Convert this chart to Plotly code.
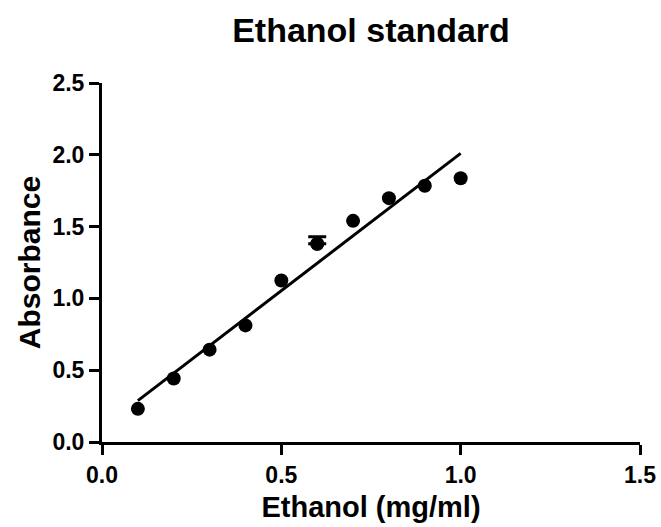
import numpy as np
import plotly.graph_objects as go

# Data
ethanol = [0.1, 0.2, 0.3, 0.4, 0.5, 0.6, 0.7, 0.8, 0.9, 1.0]
absorbance = [0.231, 0.442, 0.643, 0.812, 1.125, 1.380, 1.540, 1.698, 1.784, 1.837]
abs_err = [0, 0, 0, 0, 0, 0.049, 0, 0, 0, 0]

x_ticks = [0.0, 0.5, 1.0, 1.5]
x_tick_labels = ["0.0", "0.5", "1.0", "1.5"]
y_ticks = [0.0, 0.5, 1.0, 1.5, 2.0, 2.5]
y_tick_labels = ["0.0", "0.5", "1.0", "1.5", "2.0", "2.5"]

# Linear regression line over the data range
slope, intercept = np.polyfit(ethanol, absorbance, 1)
fit_x = [min(ethanol), max(ethanol)]
fit_y = [slope * v + intercept for v in fit_x]

# Points that actually carry an error bar (only the upper half shows)
err_idx = [i for i, e in enumerate(abs_err) if e > 0]
err_x = [ethanol[i] for i in err_idx]
err_y = [absorbance[i] for i in err_idx]
err_v = [abs_err[i] for i in err_idx]

FONT = "Liberation Sans, Arial, sans-serif"

fig = go.Figure()
fig.add_trace(go.Scatter(
    x=fit_x, y=fit_y, mode="lines",
    line=dict(color="black", width=3),
    showlegend=False, hoverinfo="skip",
))
fig.add_trace(go.Scatter(
    x=err_x, y=err_y, mode="markers",
    marker=dict(color="black", size=14),
    error_y=dict(type="data", array=err_v, arrayminus=[0] * len(err_v),
                 symmetric=False, visible=True,
                 color="black", thickness=3, width=9),
    showlegend=False, hoverinfo="skip",
))
fig.add_trace(go.Scatter(
    x=ethanol, y=absorbance, mode="markers",
    marker=dict(color="black", size=14),
    showlegend=False,
))

axis_common = dict(
    showline=True, linecolor="black", linewidth=3,
    ticks="outside", ticklen=10, tickwidth=3, tickcolor="black",
    showgrid=False, zeroline=False, automargin=False,
    tickfont=dict(family=FONT, size=23, color="black"),
)

fig.update_layout(
    width=661, height=527,
    margin=dict(l=102, r=21, t=83, b=85),
    paper_bgcolor="white", plot_bgcolor="white",
    title=dict(text="<b>Ethanol standard</b>", x=0.5, xref="paper",
               y=0.943, yref="container", yanchor="middle",
               font=dict(family=FONT, size=34, color="black")),
    xaxis=dict(range=[0, 1.5], tickvals=x_ticks, ticktext=["<b>%s</b>" % t for t in x_tick_labels],
               title=dict(text="<b>Ethanol (mg/ml)</b>", standoff=11,
                          font=dict(family=FONT, size=29, color="black")),
               **axis_common),
    yaxis=dict(range=[0, 2.5], tickvals=y_ticks, ticktext=["<b>%s</b>" % t for t in y_tick_labels],
               title=dict(text="<b>Absorbance</b>", standoff=3,
                          font=dict(family=FONT, size=30, color="black")),
               **axis_common),
)

fig.write_html("out.html")
